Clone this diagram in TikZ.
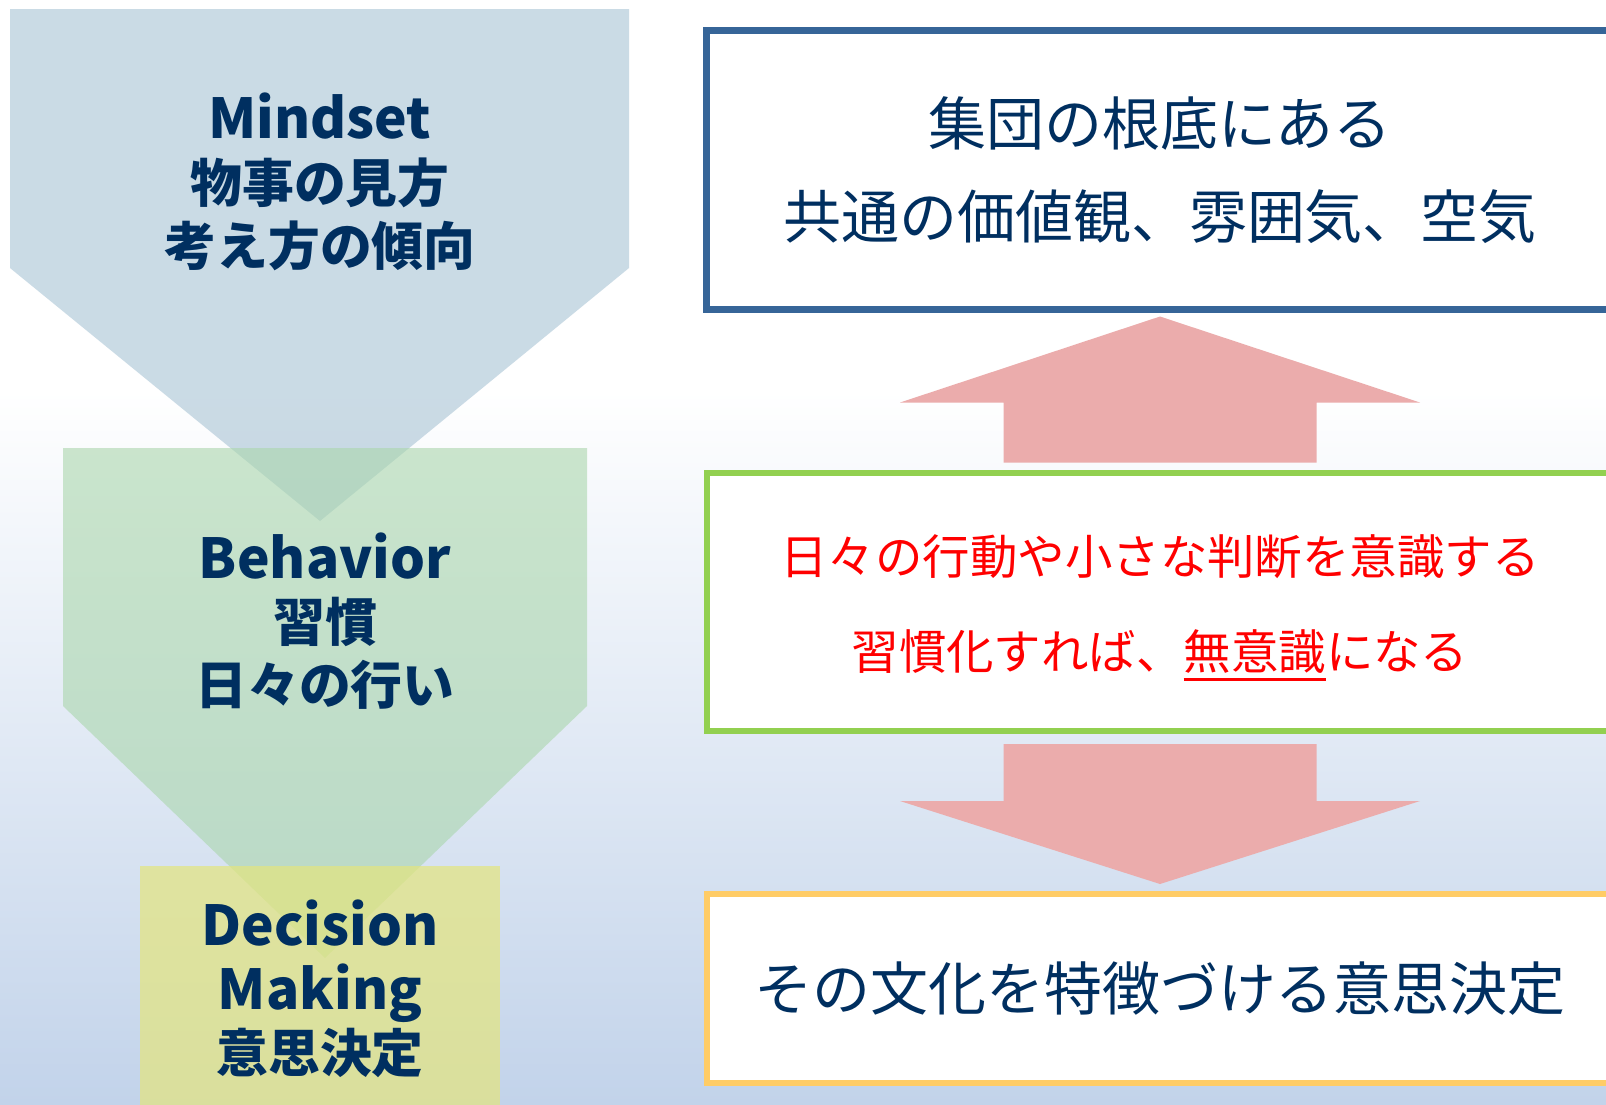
\documentclass[tikz,border=0pt]{standalone}
\usepackage{fontspec}
\setmainfont{Noto Sans CJK JP}
\usepackage{tikz}
\usetikzlibrary{positioning,calc}
\usepackage{xcolor}

\definecolor{navy}{RGB}{0,47,96}
\definecolor{coreblue}{RGB}{54,101,152}
\definecolor{habitgreen}{RGB}{146,208,80}
\definecolor{decidegold}{RGB}{255,204,102}
\definecolor{arrowpink}{RGB}{235,172,172}
\definecolor{bgblue}{RGB}{194,211,234}
\definecolor{mindfill}{RGB}{168,195,212}
\definecolor{behavfill}{RGB}{170,214,172}
\definecolor{decisfill}{RGB}{228,229,125}

\newcommand{\ulmark}[1]{\vtop{\hbox{#1}\kern2.5pt\hrule height 1.6pt}}
\newcommand{\latin}[1]{{\fontsize{31.3}{36}\selectfont #1}}

\begin{document}
\begin{tikzpicture}[x=0.2mm, y=-0.2mm,
    box/.style={draw, fill=white, minimum width=181.4mm, inner sep=0pt, align=center},
    tag/.style={align=center, inner sep=0pt, text=navy,
                font=\fontsize{29.5}{36}\selectfont\bfseries},
    chev/.style={fill opacity=0.6},
    blockarr/.style={fill=arrowpink},
]

% ===== Background =====
\useasboundingbox (0,0) rectangle (1606,1104);
\clip (0,0) rectangle (1606,1104);
\fill[white] (0,0) rectangle (1606,390);
\shade[top color=white, bottom color=bgblue] (0,390) rectangle (1606,1104);

% ===== Left column: chevrons =====
\fill[chev, mindfill] (10,9) -- (629,9) -- (629,268) -- (320,521) -- (10,268) -- cycle;
\fill[chev, behavfill] (63,448) -- (587,448) -- (587,706) -- (325,958) -- (63,706) -- cycle;
\fill[chev, decisfill, fill opacity=0.7] (140,866) rectangle (500,1110);

\node[tag] at (320,182) (mind) {\latin{Mindset}\\物事の見方\\考え方の傾向};
\node[tag] at (325,621) (behav) {\latin{Behavior}\\習慣\\日々の行い};
\node[tag] at (320,989) (decis) {\latin{Decision}\\\latin{Making}\\意思決定};

% ===== Right column: boxes =====
\node[box, draw=coreblue, line width=1.4mm, minimum height=55.6mm, text=navy,
      font=\fontsize{33}{52.7}\selectfont] at (1160,170) (core)
     {集団の根底にある\\共通の価値観、雰囲気、空気};
\node[box, draw=habitgreen, line width=1.2mm, minimum height=51.6mm, text=red,
      text depth=0pt, font=\fontsize{27}{54}\selectfont] at (1160,602) (habit)
     {日々の行動や小さな判断を意識する\\習慣化すれば、\ulmark{無意識}になる};
\node[box, draw=decidegold, line width=1.2mm, minimum height=37.8mm, text=navy,
      font=\fontsize{33}{40}\selectfont] at (1160,988.5) (decide)
     {その文化を特徴づける意思決定};

% ===== Block arrows =====
\fill[blockarr] ($(core.south)+(0,4)$) -- ++(260,86) -- ++(-103.5,0) -- ++(0,60)
     -- ++(-313,0) -- ++(0,-60) -- ++(-103.5,0) -- cycle;
\fill[blockarr] ($(decide.north)+(0,-7)$) -- ++(260,-83) -- ++(-103.5,0) -- ++(0,-57)
     -- ++(-313,0) -- ++(0,57) -- ++(-103.5,0) -- cycle;

\end{tikzpicture}
\end{document}
